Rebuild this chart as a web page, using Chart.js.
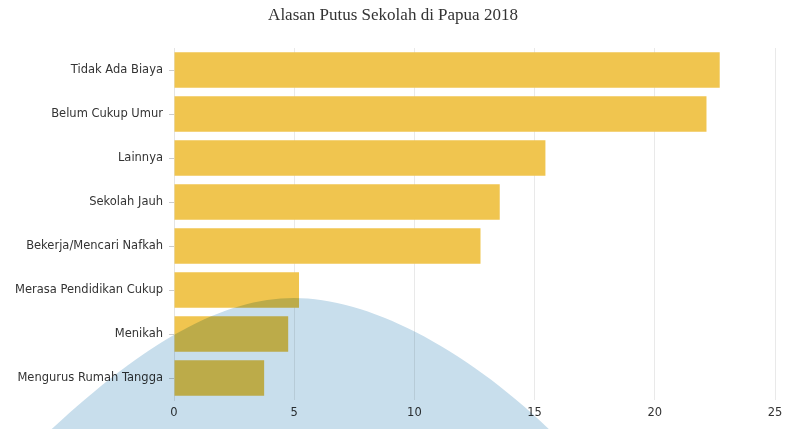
<!DOCTYPE html>
<html>
<head>
<meta charset="utf-8">
<script src="https://cdn.jsdelivr.net/npm/chart.js@4.4.1/dist/chart.umd.min.js"></script>
<style>
html,body{margin:0;padding:0;background:#fff;}
#wrap{width:786px;height:429px;position:relative;}
</style>
</head>
<body>
<div id="wrap"><canvas id="c" width="786" height="429"></canvas></div>
<script>
const chartTitle = "Alasan Putus Sekolah di Papua 2018";
const categories = [
  "Tidak Ada Biaya",
  "Belum Cukup Umur",
  "Lainnya",
  "Sekolah Jauh",
  "Bekerja/Mencari Nafkah",
  "Merasa Pendidikan Cukup",
  "Menikah",
  "Mengurus Rumah Tangga"
];
const values = [22.7, 22.15, 15.45, 13.55, 12.75, 5.2, 4.75, 3.75];
const xTicks = [0, 5, 10, 15, 20, 25];

// decorative background shape (not data)
const blobPlugin = {
  id: 'blob',
  afterDraw(chart) {
    const ctx = chart.ctx;
    ctx.save();
    ctx.globalCompositeOperation = 'multiply';
    ctx.fillStyle = '#c8deec';
    ctx.beginPath();
    ctx.moveTo(40, 440);
    ctx.bezierCurveTo(140, 345, 220, 298, 294, 298);
    ctx.bezierCurveTo(370, 298, 470, 350, 560, 440);
    ctx.closePath();
    ctx.fill();
    ctx.restore();
  }
};

new Chart(document.getElementById('c'), {
  type: 'bar',
  data: {
    labels: categories,
    datasets: [{
      data: values,
      backgroundColor: '#f0c54f',
      borderWidth: 0,
      categoryPercentage: 0.9,
      barPercentage: 0.9
    }]
  },
  options: {
    indexAxis: 'y',
    responsive: false,
    animation: false,
    layout: { padding: { left: 0, right: 0, top: 0, bottom: 0 } },
    plugins: {
      legend: { display: false },
      tooltip: { enabled: false },
      title: {
        display: true,
        text: chartTitle,
        color: '#333',
        font: { family: '"Liberation Serif", "DejaVu Serif", serif', size: 17, weight: 'normal', lineHeight: 1.2 },
        padding: { top: 5, bottom: 22.6 }
      }
    },
    scales: {
      x: {
        min: 0,
        max: 25,
        afterBuildTicks: s => { s.ticks = xTicks.map(v => ({ value: v })); },
        grid: { color: '#e9e9e9', drawTicks: false },
        border: { display: false },
        ticks: { color: '#333', font: { family: '"DejaVu Sans", Verdana, sans-serif', size: 11.5 }, padding: 6 },
        afterFit: s => { s.height = 29; s.paddingRight = 11; s.paddingLeft = 0; }
      },
      y: {
        grid: { drawOnChartArea: false, drawTicks: true, tickLength: 5, color: '#cccccc', offset: false },
        border: { display: true, color: '#e4e4e4' },
        ticks: { color: '#333', font: { family: '"DejaVu Sans", Verdana, sans-serif', size: 11.5 }, padding: 6 },
        afterFit: s => { s.width = 174; }
      }
    }
  },
  plugins: [blobPlugin]
});
</script>
</body>
</html>
